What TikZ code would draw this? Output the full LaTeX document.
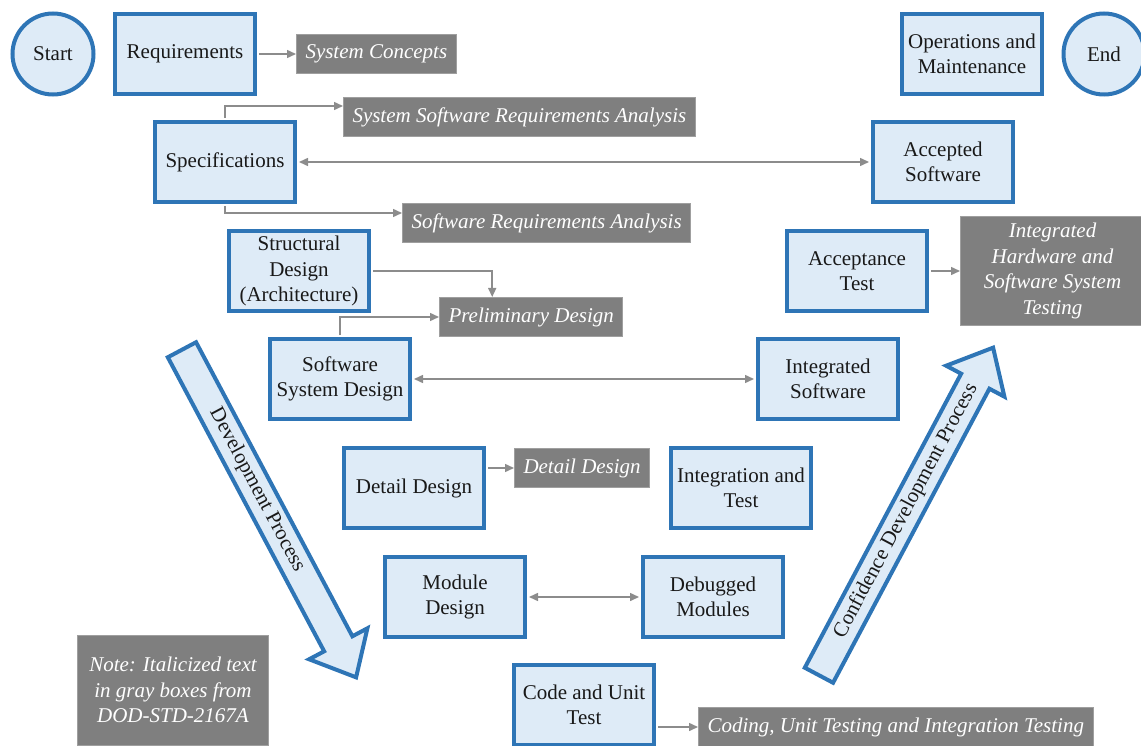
\documentclass[tikz,border=0pt]{standalone}
\usepackage{fontspec}
\setmainfont{Liberation Serif}
\usetikzlibrary{arrows.meta}
\definecolor{boxblue}{HTML}{2E75B6}
\definecolor{boxfill}{HTML}{DEEBF7}
\definecolor{notegray}{HTML}{7F7F7F}
\definecolor{linegray}{HTML}{8C8C8C}
\tikzset{
  box/.style={draw=boxblue, fill=boxfill, line width=4pt, minimum width=140pt, minimum height=80pt, align=center, inner sep=2pt, text=black!90},
  bubble/.style={circle, draw=boxblue, fill=boxfill, line width=4pt, minimum size=81pt, inner sep=0pt, text=black!90},
  greybox/.style={draw=notegray!75!white, line width=1pt, fill=notegray, text=white, font=\itshape, minimum height=39pt, inner xsep=9pt, align=center},
  conn/.style={draw=linegray, line width=1.5pt, shorten <=2pt, -{Triangle[length=9pt,width=8pt]}},
  twoway/.style={conn, shorten >=2pt, {Triangle[length=9pt,width=8pt]}-{Triangle[length=9pt,width=8pt]}},
  bigarrow/.style={draw=boxblue, fill=boxfill, line width=4pt, line join=miter},
}
\begin{document}
\fontsize{21}{25.5}\selectfont
\begin{tikzpicture}[x=1pt,y=-1pt]
  \clip (0,0) rectangle (1141,746);
  % big process arrows
  \begin{scope}[shift={(181,348)}, rotate=-62]
    \draw[bigarrow] (2,-16) -- (335,-16) -- (335,-33) -- (373,0) -- (335,33) -- (335,16) -- (2,16) -- cycle;
  \end{scope}
  \node[rotate=-62, text=black!90] (devlabel) at (257,490) {Development Process};
  \begin{scope}[shift={(818,677)}, rotate=62]
    \draw[bigarrow] (2,-16) -- (335,-16) -- (335,-33) -- (373,0) -- (335,33) -- (335,16) -- (2,16) -- cycle;
  \end{scope}
  \node[rotate=62, text=black!90] (conflabel) at (906,511) {Confidence Development Process};

  % left leg
  \node[bubble] (start) at (53,54) {Start};
  \node[box] (req) at (185,54) {Requirements};
  \node[greybox, anchor=west] (syscon) at (296,54) {System Concepts};
  \node[box] (spec) at (225,162) {Specifications};
  \node[greybox, anchor=west] (ssra) at (343,117) {System Software Requirements Analysis};
  \node[greybox, anchor=west] (sra) at (402,223) {Software Requirements Analysis};
  \node[box] (struct) at (299,271) {Structural\\Design\\(Architecture)};
  \node[greybox, anchor=west] (prelim) at (439,317) {Preliminary Design};
  \node[box] (ssd) at (340,379) {Software\\System Design};
  \node[box] (detail) at (414,488) {Detail Design};
  \node[greybox, anchor=west] (detgrey) at (514,468) {Detail Design};
  \node[box] (module) at (455,597) {Module\\Design};
  \node[box] (code) at (584,705) {Code and Unit\\Test};
  \node[greybox, anchor=west] (coding) at (698,727) {Coding, Unit Testing and Integration Testing};

  % right leg
  \node[box] (debug) at (713,597) {Debugged\\Modules};
  \node[box] (integ) at (741,488) {Integration and\\Test};
  \node[box] (intsw) at (828,379) {Integrated\\Software};
  \node[box] (accept) at (857,271) {Acceptance\\Test};
  \node[greybox, anchor=west, minimum width=184pt, minimum height=106pt] (ihss) at (960,271) {Integrated\\Hardware and\\Software System\\Testing};
  \node[box] (accsw) at (943,162) {Accepted\\Software};
  \node[box] (ops) at (972,54) {Operations and\\Maintenance};
  \node[bubble] (finish) at (1104,54) {End};

  \node[greybox, minimum width=191pt, minimum height=110pt] (note) at (173,690) {Note: Italicized text\\in gray boxes from\\DOD-STD-2167A};

  % connectors
  \draw[conn] (req) -- (syscon);
  \draw[conn] (spec.north) |- ([yshift=11pt]ssra.west);
  \draw[conn] (spec.south) |- ([yshift=10pt]sra.west);
  \draw[twoway] (spec) -- (accsw);
  \draw[conn] (struct.east) -| ([xshift=-39pt]prelim.north);
  \draw[conn] (ssd.north) |- (prelim.west);
  \draw[twoway] (ssd) -- (intsw);
  \draw[conn] (detail.east |- detgrey.west) -- (detgrey.west);
  \draw[twoway] (module) -- (debug);
  \draw[conn] (accept) -- (ihss);
  \draw[conn] (code.east |- coding.west) -- (coding.west);
\end{tikzpicture}
\end{document}
